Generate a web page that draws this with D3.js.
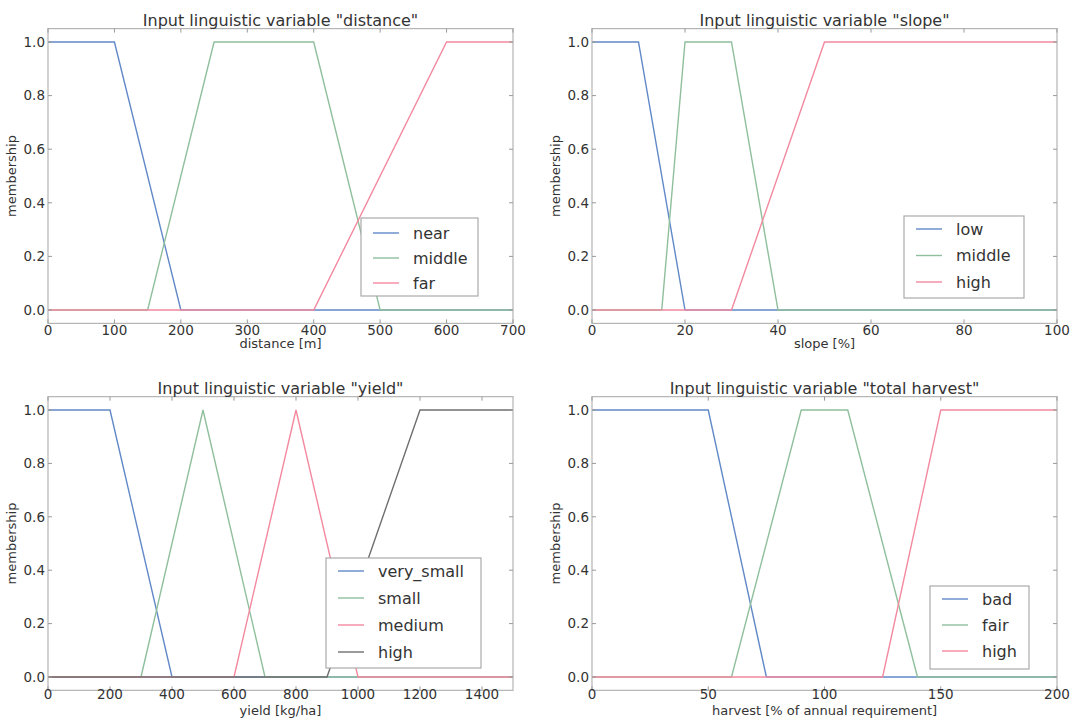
<!DOCTYPE html>
<html>
<head>
<meta charset="utf-8">
<script src="https://cdn.jsdelivr.net/npm/d3@7"></script>
<style>
  body { margin: 0; background: #fff; }
  text { font-family: "DejaVu Sans", sans-serif; fill: #333; }
</style>
</head>
<body>
<svg id="chart" width="1072" height="718"></svg>
<script>
// membership functions, breakpoints
const distanceNear   = [[0,1],[100,1],[200,0],[700,0]];
const distanceMiddle = [[0,0],[150,0],[250,1],[400,1],[500,0],[700,0]];
const distanceFar    = [[0,0],[400,0],[600,1],[700,1]];

const slopeLow    = [[0,1],[10,1],[20,0],[100,0]];
const slopeMiddle = [[0,0],[15,0],[20,1],[30,1],[40,0],[100,0]];
const slopeHigh   = [[0,0],[30,0],[50,1],[100,1]];

const yieldVerySmall = [[0,1],[200,1],[400,0],[1500,0]];
const yieldSmall     = [[0,0],[300,0],[500,1],[700,0],[1500,0]];
const yieldMedium    = [[0,0],[600,0],[800,1],[1000,0],[1500,0]];
const yieldHigh      = [[0,0],[900,0],[1200,1],[1500,1]];

const harvestBad  = [[0,1],[50,1],[75,0],[200,0]];
const harvestFair = [[0,0],[60,0],[90,1],[110,1],[140,0],[200,0]];
const harvestHigh = [[0,0],[125,0],[150,1],[200,1]];

const distanceTicks = [0,100,200,300,400,500,600,700];
const slopeTicks    = [0,20,40,60,80,100];
const yieldTicks    = [0,200,400,600,800,1000,1200,1400];
const harvestTicks  = [0,50,100,150,200];
const memberTicks   = [0,0.2,0.4,0.6,0.8,1.0];

const blue = "#6189c8", green = "#8fbf9c", pink = "#f2899f", grey = "#6f6f6f";

const panels = [
  { title: 'Input linguistic variable "distance"', xlabel: "distance [m]", xmax: 700, ticks: distanceTicks,
    series: [["near", distanceNear, blue], ["middle", distanceMiddle, green], ["far", distanceFar, pink]],
    left: 48, right: 513, y1: 42, y0: 310, titleY: 26, tickY: 335, xlabY: 348,
    leg: { x: 361, y: 218, w: 117, h: 78, row0: 233, step: 25 } },
  { title: 'Input linguistic variable "slope"', xlabel: "slope [%]", xmax: 100, ticks: slopeTicks,
    series: [["low", slopeLow, blue], ["middle", slopeMiddle, green], ["high", slopeHigh, pink]],
    left: 592, right: 1057, y1: 42, y0: 310, titleY: 26, tickY: 335, xlabY: 348,
    leg: { x: 904, y: 216, w: 120, h: 82, row0: 229, step: 26.5 } },
  { title: 'Input linguistic variable "yield"', xlabel: "yield [kg/ha]", xmax: 1500, ticks: yieldTicks,
    series: [["very_small", yieldVerySmall, blue], ["small", yieldSmall, green], ["medium", yieldMedium, pink], ["high", yieldHigh, grey]],
    left: 48, right: 513, y1: 410, y0: 677, titleY: 394, tickY: 699, xlabY: 715,
    leg: { x: 326, y: 558, w: 155, h: 110, row0: 571, step: 27 } },
  { title: 'Input linguistic variable "total harvest"', xlabel: "harvest [% of annual requirement]", xmax: 200, ticks: harvestTicks,
    series: [["bad", harvestBad, blue], ["fair", harvestFair, green], ["high", harvestHigh, pink]],
    left: 592, right: 1057, y1: 410, y0: 677, titleY: 394, tickY: 699, xlabY: 715,
    leg: { x: 930, y: 586, w: 99, h: 83, row0: 599, step: 26 } }
];

const svg = d3.select("#chart");

panels.forEach(p => {
  const x = d3.scaleLinear().domain([0, p.xmax]).range([p.left, p.right]);
  const unit = p.y0 - p.y1;
  const y = d3.scaleLinear().domain([-0.05, 1.05]).range([p.y0 + unit * 0.05, p.y1 - unit * 0.05]);
  const g = svg.append("g");
  const top = y(1.05), bot = y(-0.05);

  // curves
  const line = d3.line().x(d => x(d[0])).y(d => y(d[1]));
  p.series.forEach(s => {
    g.append("path").attr("d", line(s[1])).attr("fill", "none")
      .attr("stroke", s[2]).attr("stroke-width", 1.4);
  });

  // frame
  g.append("rect").attr("x", p.left).attr("y", top).attr("width", p.right - p.left).attr("height", bot - top)
    .attr("fill", "none").attr("stroke", "#b4b4b4").attr("stroke-width", 1.2);

  // ticks (inward, both sides) + labels
  p.ticks.forEach(t => {
    g.append("line").attr("x1", x(t)).attr("x2", x(t)).attr("y1", bot).attr("y2", bot - 4).attr("stroke", "#999");
    g.append("line").attr("x1", x(t)).attr("x2", x(t)).attr("y1", top).attr("y2", top + 4).attr("stroke", "#999");
    g.append("text").attr("x", x(t)).attr("y", p.tickY).attr("text-anchor", "middle")
      .attr("font-size", 13.5).text(t);
  });
  memberTicks.forEach(t => {
    g.append("line").attr("x1", p.left).attr("x2", p.left + 4).attr("y1", y(t)).attr("y2", y(t)).attr("stroke", "#999");
    g.append("line").attr("x1", p.right).attr("x2", p.right - 4).attr("y1", y(t)).attr("y2", y(t)).attr("stroke", "#999");
    g.append("text").attr("x", p.left - 3).attr("y", y(t)).attr("dy", "0.36em").attr("text-anchor", "end")
      .attr("font-size", 13.5).text(d3.format(".1f")(t));
  });

  g.append("text").attr("x", (p.left + p.right) / 2).attr("y", p.titleY).attr("text-anchor", "middle")
    .attr("font-size", 16).text(p.title);
  g.append("text").attr("x", (p.left + p.right) / 2).attr("y", p.xlabY).attr("text-anchor", "middle")
    .attr("font-size", 13).text(p.xlabel);
  g.append("text").attr("transform", `translate(${p.left - 32},${(top + bot) / 2}) rotate(-90)`)
    .attr("text-anchor", "middle").attr("font-size", 13).text("membership");

  // legend
  const L = p.leg;
  g.append("rect").attr("x", L.x).attr("y", L.y).attr("width", L.w).attr("height", L.h)
    .attr("fill", "#fff").attr("stroke", "#aaa").attr("stroke-width", 1.2);
  p.series.forEach((s, i) => {
    const ry = L.row0 + i * L.step;
    g.append("line").attr("x1", L.x + 12).attr("x2", L.x + 38).attr("y1", ry).attr("y2", ry)
      .attr("stroke", s[2]).attr("stroke-width", 1.4);
    g.append("text").attr("x", L.x + 52).attr("y", ry).attr("dy", "0.35em")
      .attr("font-size", 16).text(s[0]);
  });
});
</script>
</body>
</html>
